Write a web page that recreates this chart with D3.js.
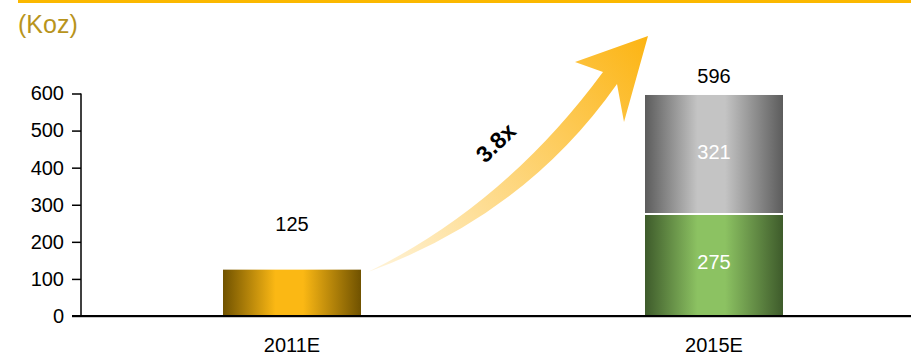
<!DOCTYPE html>
<html>
<head>
<meta charset="utf-8">
<script src="https://cdn.jsdelivr.net/npm/d3@7"></script>
<style>
  html, body { margin: 0; padding: 0; background: #fff; }
  svg { display: block; font-family: Arial, "Liberation Sans", sans-serif; }
</style>
</head>
<body>
<svg id="chart" width="911" height="356"></svg>
<script>
// Gold production outlook (thousand ounces)
const categories = ["2011E", "2015E"];
const seriesNames = ["base", "growth"];
const baseValues = [125, 275];
const growthValues = [0, 321];
const yTicks = [0, 100, 200, 300, 400, 500, 600];
const unitLabel = "(Koz)";
const multipleLabel = "3.8x";

const totals = categories.map((c, i) => baseValues[i] + growthValues[i]);

const svg = d3.select("#chart");
const W = 911, H = 356;

const x = d3.scaleBand().domain(categories).range([81, 925])
  .paddingInner(0.673).paddingOuter(0.3365);
const y = d3.scaleLinear().domain([0, 600]).range([316, 93.5]);

// horizontal shading gradients for the bar faces
const defs = svg.append("defs");
function barGradient(id, edge, mid) {
  const g = defs.append("linearGradient").attr("id", id)
    .attr("x1", "0%").attr("x2", "100%").attr("y1", "0%").attr("y2", "0%");
  g.append("stop").attr("offset", "0%").attr("stop-color", edge);
  g.append("stop").attr("offset", "38%").attr("stop-color", mid);
  g.append("stop").attr("offset", "58%").attr("stop-color", mid);
  g.append("stop").attr("offset", "100%").attr("stop-color", edge);
}
barGradient("gGold", "#705200", "#fbb814");
barGradient("gGrey", "#5c5c5c", "#c4c4c4");
barGradient("gGreen", "#3e5b2b", "#8cc262");

const arrowGrad = defs.append("linearGradient").attr("id", "gArrow")
  .attr("gradientUnits", "userSpaceOnUse")
  .attr("x1", 370).attr("y1", 272).attr("x2", 648).attr("y2", 36);
arrowGrad.append("stop").attr("offset", "0%").attr("stop-color", "#fff4da");
arrowGrad.append("stop").attr("offset", "100%").attr("stop-color", "#fcb412");

// top rule and unit label
svg.append("rect").attr("x", 18).attr("y", 0).attr("width", W - 18).attr("height", 3)
  .attr("fill", "#fbb800");
svg.append("text").attr("x", 18).attr("y", 33).attr("font-size", 25)
  .attr("fill", "#b8941c").text(unitLabel);

// stacked data
const rows = categories.map((c, i) => ({ cat: c, base: baseValues[i], growth: growthValues[i] }));
const stacked = d3.stack().keys(seriesNames)(rows);
const fills = {
  base: (d, i) => i === 0 ? "url(#gGold)" : "url(#gGreen)",
  growth: () => "url(#gGrey)"
};

stacked.forEach(layer => {
  svg.append("g").selectAll("rect")
    .data(layer.filter(d => d[1] > d[0]))
    .join("rect")
    .attr("x", d => x(d.data.cat))
    .attr("width", x.bandwidth())
    .attr("y", d => y(d[1]))
    .attr("height", d => y(d[0]) - y(d[1]))
    .attr("fill", d => fills[layer.key](d, categories.indexOf(d.data.cat)));
});

// white divider between stacked segments
svg.append("g").selectAll("line")
  .data(rows.filter(r => r.growth > 0))
  .join("line")
  .attr("x1", d => x(d.cat)).attr("x2", d => x(d.cat) + x.bandwidth())
  .attr("y1", d => y(d.base)).attr("y2", d => y(d.base))
  .attr("stroke", "#fff").attr("stroke-width", 2);

// segment labels inside the stacked bar
svg.append("g").selectAll("text")
  .data(rows.filter(r => r.growth > 0).flatMap(r => [
    { cat: r.cat, v: r.base, mid: r.base / 2 },
    { cat: r.cat, v: r.growth, mid: r.base + r.growth / 2 }
  ]))
  .join("text")
  .attr("x", d => x(d.cat) + x.bandwidth() / 2)
  .attr("y", d => y(d.mid) + 4)
  .attr("text-anchor", "middle")
  .attr("font-size", 20).attr("fill", "#fff")
  .text(d => d.v);

// total labels above bars
const totalOffset = [39, 12];
svg.append("g").selectAll("text")
  .data(categories)
  .join("text")
  .attr("x", d => x(d) + x.bandwidth() / 2)
  .attr("y", (d, i) => y(totals[i]) - totalOffset[i])
  .attr("text-anchor", "middle")
  .attr("font-size", 20).attr("fill", "#000")
  .text((d, i) => totals[i]);

// y axis
const yAxis = svg.append("g").attr("transform", "translate(81,0)")
  .call(d3.axisLeft(y).tickValues(yTicks).tickSize(9).tickPadding(8));
yAxis.select(".domain").attr("stroke", "#000").attr("stroke-width", 1.5)
  .attr("d", `M0,${y(600)}V${y(0)}`);
yAxis.selectAll(".tick line").attr("stroke", "#000").attr("stroke-width", 1.5);
yAxis.selectAll(".tick text").attr("font-size", 20).attr("fill", "#000")
  .attr("font-family", "Arial, 'Liberation Sans', sans-serif");

// x axis baseline
svg.append("line").attr("x1", 72).attr("x2", W).attr("y1", y(0) + 1.5).attr("y2", y(0) + 1.5)
  .attr("stroke", "#c8c8c8").attr("stroke-width", 1);
svg.append("line").attr("x1", 72).attr("x2", W).attr("y1", y(0)).attr("y2", y(0))
  .attr("stroke", "#000").attr("stroke-width", 2);

// category labels
svg.append("g").selectAll("text")
  .data(categories)
  .join("text")
  .attr("x", d => x(d) + x.bandwidth() / 2)
  .attr("y", 352)
  .attr("text-anchor", "middle")
  .attr("font-size", 20).attr("fill", "#000")
  .text(d => d);

// growth arrow between the two bars
const arrowPath = d3.path();
arrowPath.moveTo(368, 272);
arrowPath.quadraticCurveTo(505, 205, 603, 72);
arrowPath.lineTo(575, 62);
arrowPath.lineTo(648, 36);
arrowPath.lineTo(624, 122);
arrowPath.lineTo(617, 84);
arrowPath.quadraticCurveTo(525, 215, 368, 272);
arrowPath.closePath();
svg.append("path").attr("d", arrowPath.toString()).attr("fill", "url(#gArrow)");

svg.append("text")
  .attr("transform", "translate(497,144) rotate(-44)")
  .attr("text-anchor", "middle").attr("dominant-baseline", "middle")
  .attr("font-size", 23).attr("font-weight", "bold").attr("fill", "#000")
  .text(multipleLabel);
</script>
</body>
</html>
